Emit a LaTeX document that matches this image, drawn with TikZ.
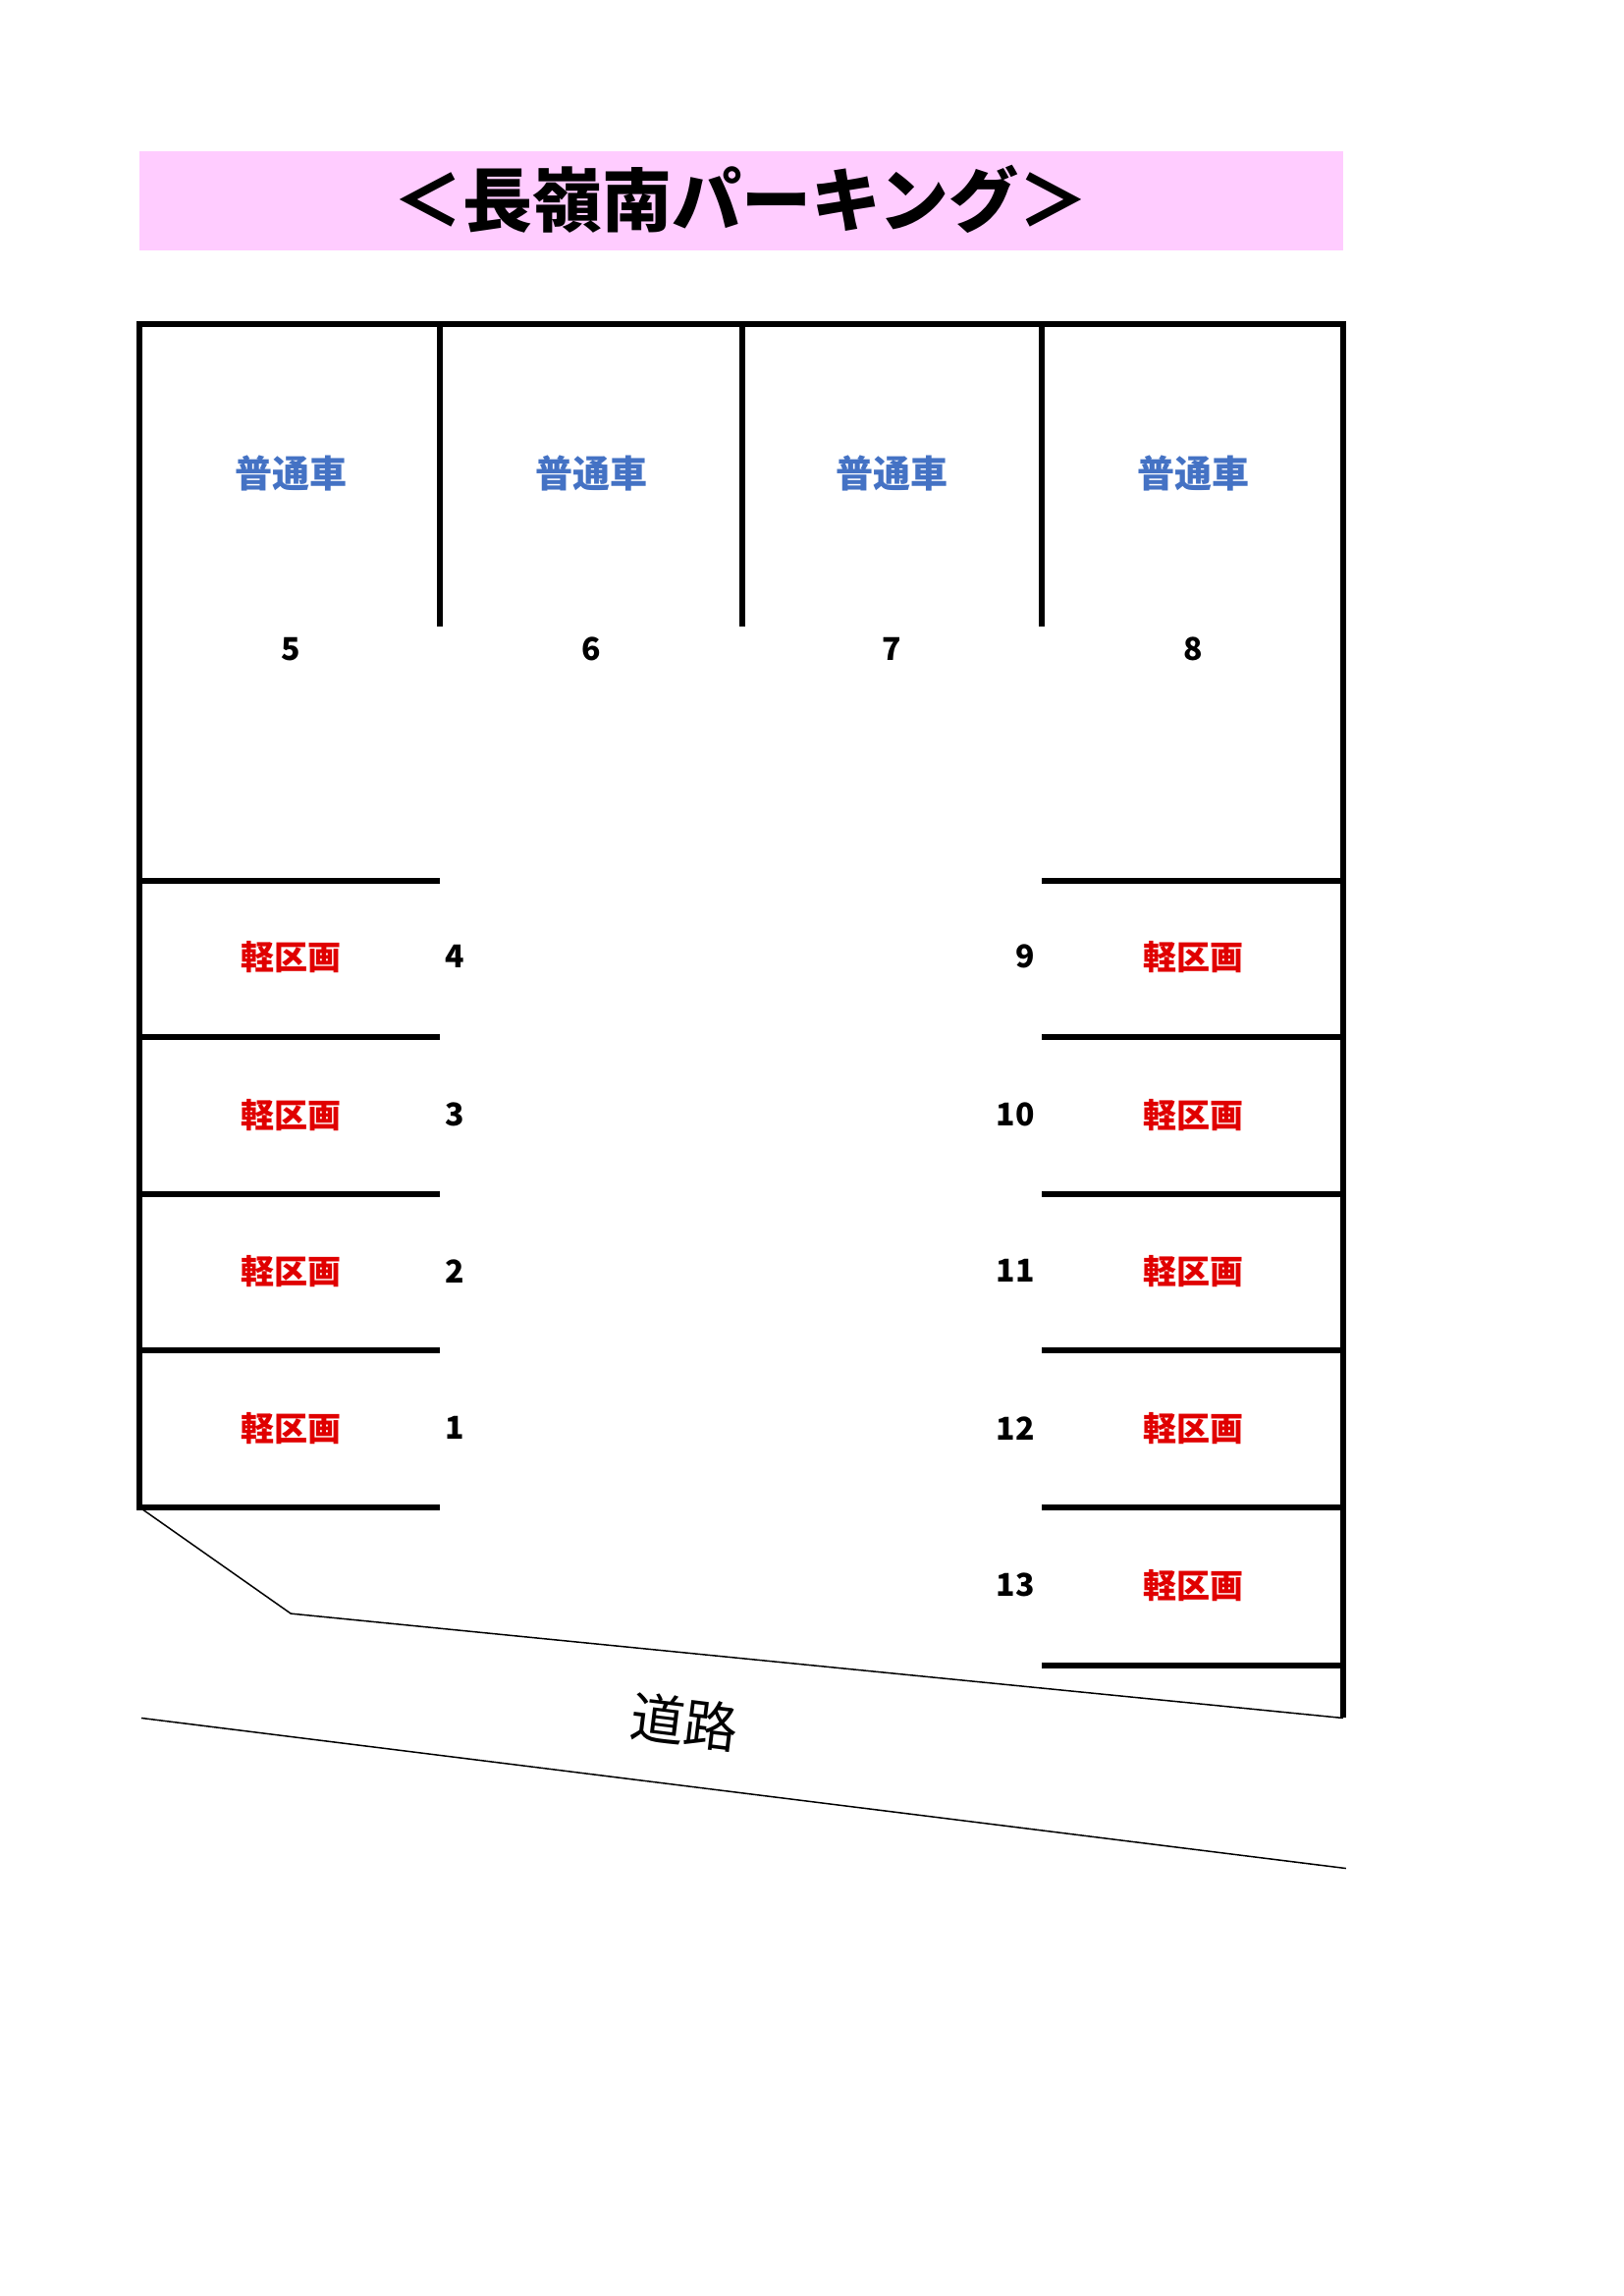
\documentclass[tikz,border=0pt]{standalone}
\usepackage{fontspec}
\setmainfont{Noto Sans CJK JP}
\definecolor{pinkbg}{HTML}{FFCCFF}
\definecolor{carblue}{HTML}{4472C4}
\definecolor{kred}{HTML}{E00000}
\begin{document}
\begin{tikzpicture}[x=1pt,y=-1pt,
  wall/.style={line width=6pt},
  thin/.style={line width=1.5pt},
  futsu/.style={font=\fontsize{38}{40}\selectfont\bfseries, text=carblue},
  kei/.style={font=\fontsize{34}{36}\selectfont\bfseries, text=kred},
  num/.style={font=\fontsize{32}{34}\selectfont\bfseries}]
\useasboundingbox (0,0) rectangle (1654,2338);
\begin{scope}[x=0.995pt,y=-0.994pt,shift={(0.7pt,-2pt)}]
\fill[pinkbg] (142,153) rectangle (1374,255);
\node[font=\fontsize{71}{76}\selectfont\bfseries] (title) at (758,202) {＜長嶺南パーキング＞};
% frame
\draw[wall] (142,1545) -- (142,330) -- (1374,330) -- (1374,1758);
\foreach \x in {450,759,1066} \draw[wall] (\x,330) -- (\x,640);
\foreach \y in {900,1060,1221,1381,1542} \draw[wall] (139,\y) -- (450,\y);
\foreach \y in {900,1060,1221,1381,1542,1704} \draw[wall] (1066,\y) -- (1377,\y);
% road
\draw[thin] (142,1542) -- (297,1651) -- (1374,1758);
\draw[thin] (144,1758) -- (1377,1912);
\node[font=\fontsize{55}{58}\selectfont, rotate=-7] (road) at (700,1762) {道路};
% labels
\foreach \x/\n [count=\i] in {297/5,605/6,912/7,1221/8}{
  \node[futsu] (f\i) at (\x,483) {普通車};
  \node[num] (n\n) at (\x,663) {\n};
}
\foreach \y/\n [count=\i] in {978/4,1140/3,1300/2,1461/1}{
  \node[kei] (kl\i) at (297,\y) {軽区画};
  \node[num] (nl\i) at (465,\y) {\n};
}
\foreach \y/\n [count=\i] in {978/9,1140/10,1300/11,1461/12,1622/13}{
  \node[kei] (kr\i) at (1221,\y) {軽区画};
  \node[num, anchor=east] (nr\i) at (1062,\y) {\n};
}
\end{scope}
\end{tikzpicture}
\end{document}
